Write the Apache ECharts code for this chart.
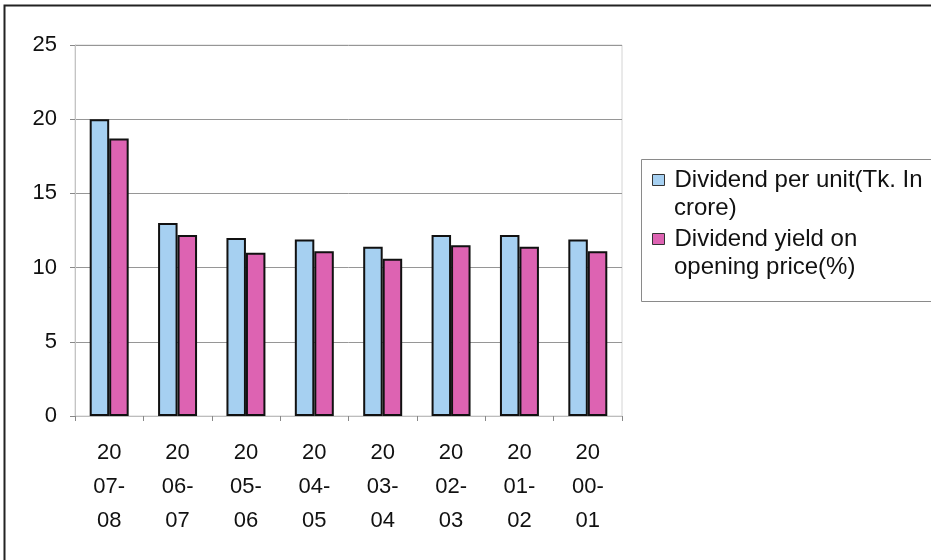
<!DOCTYPE html>
<html>
<head>
<meta charset="utf-8">
<script src="https://cdn.jsdelivr.net/npm/echarts@6/dist/echarts.min.js"></script>
<style>
  html, body { margin: 0; padding: 0; background: #fff; }
  #chart { width: 931px; height: 560px; }
</style>
</head>
<body>
<div id="chart"></div>
<script>
// Financial years, most recent first
const categories = ['2007-08', '2006-07', '2005-06', '2004-05', '2003-04', '2002-03', '2001-02', '2000-01'];
// Axis labels are wrapped the way the narrow category slots break them
const categoryLabels = ['20\n07-\n08', '20\n06-\n07', '20\n05-\n06', '20\n04-\n05', '20\n03-\n04', '20\n02-\n03', '20\n01-\n02', '20\n00-\n01'];
const dividendPerUnit = [20.0, 13.0, 12.0, 11.9, 11.4, 12.2, 12.2, 11.9];
const dividendYield = [18.7, 12.2, 11.0, 11.1, 10.6, 11.5, 11.4, 11.1];
const seriesNames = ['Dividend per unit(Tk. In crore)', 'Dividend yield on opening price(%)'];
// Legend names wrap onto a second line inside the legend box
const legendFirstLines = ['Dividend per unit(Tk. In', 'Dividend yield on'];
const legendSecondLines = ['crore)', 'opening price(%)'];
const yTicks = [0, 5, 10, 15, 20, 25];

const chart = echarts.init(document.getElementById('chart'), null, { renderer: 'canvas' });

const font = 'Arial, "Liberation Sans", sans-serif';
const legendFontSize = 24;
const legendTop = 161.5;
const legendRow = 27;
const legendItemStep = 59;
const legendTextX = 674;

chart.setOption({
  animation: false,
  backgroundColor: '#ffffff',
  textStyle: { fontFamily: font },
  grid: {
    left: 75, right: 309, top: 45, bottom: 144,
    show: true, borderColor: '#d4d4d4', borderWidth: 1, backgroundColor: '#ffffff'
  },
  legend: {
    orient: 'vertical',
    left: 647, top: legendTop,
    itemWidth: 12, itemHeight: 11,
    itemGap: legendItemStep - legendRow,
    icon: 'rect',
    itemStyle: { borderWidth: 1, borderColor: '#333' },
    formatter: name => legendFirstLines[seriesNames.indexOf(name)],
    textStyle: {
      fontSize: legendFontSize, color: '#111', lineHeight: legendRow, fontFamily: font,
      padding: [0, 0, 0, 5]
    },
    data: seriesNames
  },
  xAxis: {
    type: 'category',
    data: categoryLabels,
    axisLine: { show: true, lineStyle: { color: '#bdbdbd', width: 1 } },
    axisTick: { show: true, length: 5, inside: false, lineStyle: { color: '#888' } },
    axisLabel: {
      fontSize: 22, color: '#111', lineHeight: 34, margin: 20, interval: 0, fontFamily: font
    },
    splitLine: { show: false }
  },
  yAxis: {
    type: 'value',
    min: yTicks[0], max: yTicks[yTicks.length - 1], interval: 5,
    axisLine: { show: true, lineStyle: { color: '#c4c4c4', width: 1 } },
    axisTick: { show: true, length: 5, lineStyle: { color: '#888' } },
    axisLabel: { fontSize: 22, color: '#111', margin: 18, fontFamily: font },
    splitLine: { show: true, lineStyle: { color: '#969696', width: 1 } }
  },
  series: [
    {
      name: seriesNames[0],
      type: 'bar',
      data: dividendPerUnit,
      barGap: '0%',
      barCategoryGap: '43%',
      itemStyle: { color: '#a6d0f1', borderColor: '#111', borderWidth: 2 }
    },
    {
      name: seriesNames[1],
      type: 'bar',
      data: dividendYield,
      itemStyle: { color: '#dd63b2', borderColor: '#111', borderWidth: 2 }
    }
  ],
  graphic: [
    // outer chart frame
    {
      type: 'rect',
      shape: { x: 4.5, y: 5.5, width: 940, height: 600 },
      style: { fill: 'none', stroke: '#222', lineWidth: 2 },
      z: -1
    },
    // legend frame
    {
      type: 'rect',
      shape: { x: 641.5, y: 159.5, width: 300, height: 142 },
      style: { fill: 'none', stroke: '#8a8a8a', lineWidth: 1 },
      z: 10
    }
  ].concat(legendSecondLines.map((line, i) => ({
    // wrapped continuation of each legend name
    type: 'text',
    left: legendTextX,
    top: legendTop + 5 + i * legendItemStep + legendRow + 1,
    style: {
      text: line,
      fontSize: legendFontSize,
      fontFamily: font,
      fill: '#111',
      lineHeight: legendRow
    },
    z: 10
  })))
});
</script>
</body>
</html>
